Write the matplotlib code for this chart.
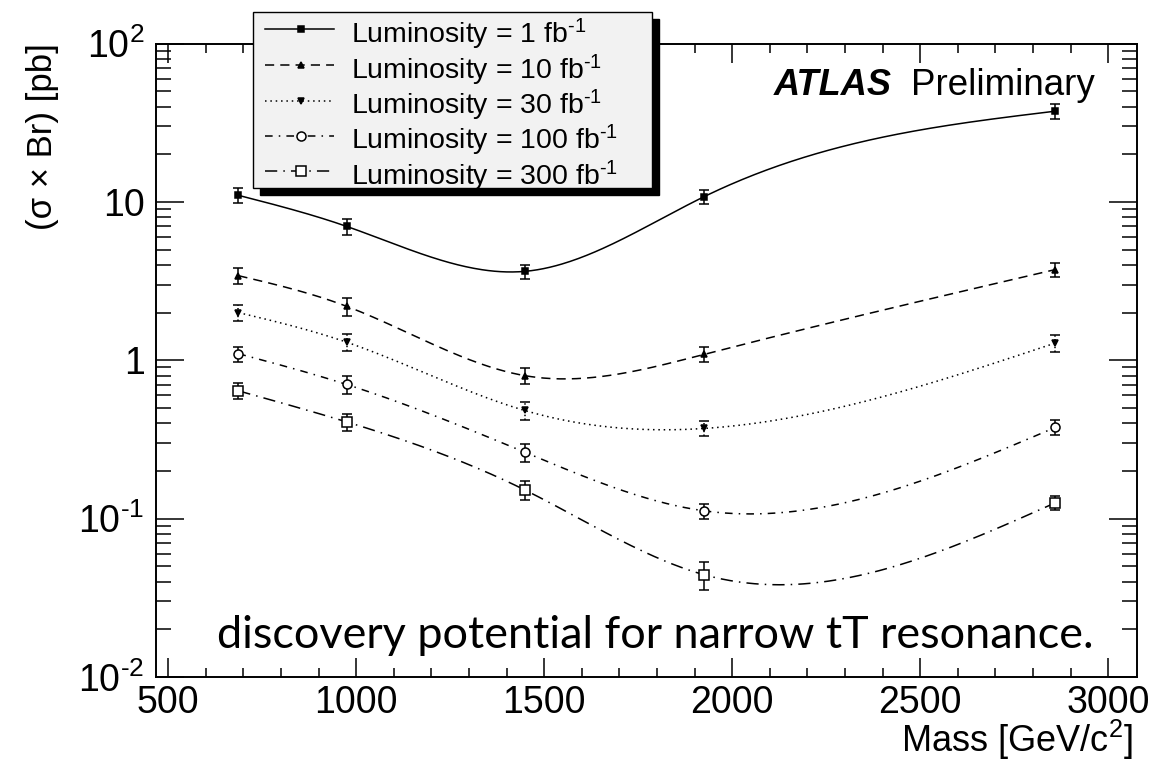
import numpy as np
import matplotlib
matplotlib.use("Agg")
import matplotlib.pyplot as plt
from matplotlib.patches import Rectangle
from matplotlib.lines import Line2D
from matplotlib.ticker import MultipleLocator, LogLocator, FuncFormatter, NullFormatter

plt.rcParams["font.family"] = ["Liberation Sans", "DejaVu Sans"]
plt.rcParams["mathtext.fontset"] = "custom"
plt.rcParams["mathtext.rm"] = "Liberation Sans"
plt.rcParams["mathtext.it"] = "Liberation Sans:italic"
plt.rcParams["mathtext.bf"] = "Liberation Sans:bold"

# ---- data -------------------------------------------------------------
mass = [687, 975, 1448, 1926, 2860]

lumi_labels = [
    r"Luminosity = 1 fb$^{\text{-}1}$",
    r"Luminosity = 10 fb$^{\text{-}1}$",
    r"Luminosity = 30 fb$^{\text{-}1}$",
    r"Luminosity = 100 fb$^{\text{-}1}$",
    r"Luminosity = 300 fb$^{\text{-}1}$",
]

xsec_1fb = [11.0, 7.0, 3.64, 10.8, 37.4]
err_1fb = [1.2, 0.85, 0.38, 1.1, 4.0]

xsec_10fb = [3.42, 2.19, 0.80, 1.09, 3.74]
err_10fb = [0.40, 0.28, 0.09, 0.12, 0.40]

xsec_30fb = [2.0, 1.30, 0.482, 0.371, 1.285]
err_30fb = [0.23, 0.16, 0.06, 0.04, 0.15]

xsec_100fb = [1.10, 0.703, 0.263, 0.112, 0.377]
err_100fb = [0.12, 0.09, 0.034, 0.012, 0.04]

xsec_300fb = [0.641, 0.408, 0.152, 0.0442, 0.126]
err_300fb = [0.075, 0.05, 0.02, 0.009, 0.013]

series = [xsec_1fb, xsec_10fb, xsec_30fb, xsec_100fb, xsec_300fb]
errors = [err_1fb, err_10fb, err_30fb, err_100fb, err_300fb]

# ---- styles -----------------------------------------------------------
line_styles = [
    "-",
    (0, (6, 4)),
    (0, (1, 2.5)),
    (0, (5, 4, 1, 4)),
    (0, (8, 4, 1, 4)),
]
markers = ["s", "^", "v", "o", "s"]
marker_sizes = [5, 5, 5, 6.5, 6.5]
marker_faces = ["black", "black", "black", "white", "white"]


def natural_spline(x, y, xs):
    """Natural cubic spline through (x, y), evaluated at xs."""
    x = np.asarray(x, float)
    y = np.asarray(y, float)
    n = len(x)
    h = np.diff(x)
    A = np.zeros((n, n))
    b = np.zeros(n)
    A[0, 0] = A[-1, -1] = 1.0
    for i in range(1, n - 1):
        A[i, i - 1] = h[i - 1]
        A[i, i] = 2 * (h[i - 1] + h[i])
        A[i, i + 1] = h[i]
        b[i] = 3 * ((y[i + 1] - y[i]) / h[i] - (y[i] - y[i - 1]) / h[i - 1])
    c = np.linalg.solve(A, b)
    idx = np.clip(np.searchsorted(x, xs) - 1, 0, n - 2)
    dx = xs - x[idx]
    bc = (y[idx + 1] - y[idx]) / h[idx] - h[idx] * (2 * c[idx] + c[idx + 1]) / 3
    dc = (c[idx + 1] - c[idx]) / (3 * h[idx])
    return y[idx] + bc * dx + c[idx] * dx ** 2 + dc * dx ** 3


W, H = 1176, 762
fig = plt.figure(figsize=(W / 100, H / 100), dpi=100)
ax = fig.add_axes([155.7 / W, 1 - 677 / H, (1136.7 - 155.7) / W, (677 - 43.5) / H])

xs = np.linspace(mass[0], mass[-1], 400)
for vals, errs, ls, mk, ms, mf in zip(series, errors, line_styles, markers,
                                      marker_sizes, marker_faces):
    curve = 10 ** natural_spline(mass, np.log10(vals), xs)
    ax.plot(xs, curve, color="black", lw=1.1, linestyle=ls)
    _, caps, bars = ax.errorbar(mass, vals, yerr=errs, fmt=mk, ms=ms, mfc=mf,
                                mec="black", mew=1.1, color="black",
                                elinewidth=1.1, capsize=3.5, capthick=1.1,
                                linestyle="none")
    if ls == line_styles[2]:
        bars[0].set_linestyle((0, (1, 1.5)))

ax.set_xscale("linear")
ax.set_yscale("log")
ax.set_xlim(467, 3076)
ax.set_ylim(0.01, 100)

ax.xaxis.set_major_locator(MultipleLocator(500))
ax.xaxis.set_minor_locator(MultipleLocator(100))
ax.yaxis.set_major_locator(LogLocator(base=10))
ax.yaxis.set_minor_locator(LogLocator(base=10, subs=np.arange(2, 10)))
ax.yaxis.set_minor_formatter(NullFormatter())
ylab = {100: "$10^{2}$", 10: "10", 1: "1",
        0.1: r"$10^{\text{-}1}$", 0.01: r"$10^{\text{-}2}$"}
ax.yaxis.set_major_formatter(FuncFormatter(
    lambda v, p: min(ylab.items(), key=lambda kv: abs(np.log10(kv[0]) - np.log10(v)))[1]))

ax.tick_params(which="both", direction="in", top=True, right=True,
               labelsize=27, width=1.1, colors="black")
ax.tick_params(axis="x", which="major", length=13.5, pad=6)
ax.tick_params(axis="x", which="minor", length=6.7)
ax.tick_params(axis="y", which="major", length=20, pad=8)
ax.tick_params(axis="y", which="minor", length=10.5)
for s in ax.spines.values():
    s.set_linewidth(1.4)

# axis titles
fig.text(43 / W, 1 - 43 / H, "(σ × Br) [pb]", rotation=90, ha="center",
         va="top", fontsize=25)
fig.text(1133 / W, 1 - 752 / H, "Mass [GeV/c$^{2}$]", ha="right",
         va="baseline", fontsize=26)

# experiment tag
fig.text(1095 / W, 1 - 95 / H, "Preliminary", ha="right", va="baseline",
         fontsize=26.5)
fig.text(892 / W, 1 - 95 / H, "ATLAS", ha="right", va="baseline",
         fontsize=26, fontweight="bold", fontstyle="italic")

# caption
fig.text(217 / W, 1 - 648 / H, "discovery potential for narrow tT resonance.",
         ha="left", va="baseline", fontsize=32.4, family=["Lato", "DejaVu Sans"])


# legend box with drop shadow
def fx(px):
    return px / W


def fy(py):
    return 1 - py / H


box_l, box_r, box_t, box_b = 253, 652, 12, 188
shadow = 7
fig.patches.append(Rectangle((fx(box_l + shadow), fy(box_b + shadow)),
                             (box_r - box_l) / W, (box_b - box_t) / H,
                             transform=fig.transFigure, facecolor="black",
                             edgecolor="black", zorder=5))
fig.patches.append(Rectangle((fx(box_l), fy(box_b)),
                             (box_r - box_l) / W, (box_b - box_t) / H,
                             transform=fig.transFigure, facecolor="#f2f2f2",
                             edgecolor="black", lw=1.0, zorder=6))
row_y = [29.3, 65, 100.5, 135.7, 171.3]
for ry, lab, ls, mk, ms, mf in zip(row_y, lumi_labels, line_styles, markers,
                                   marker_sizes, marker_faces):
    fig.add_artist(Line2D([fx(265), fx(334)], [fy(ry), fy(ry)],
                          transform=fig.transFigure, color="black", lw=1.1,
                          linestyle=ls, zorder=7))
    fig.add_artist(Line2D([fx(301)], [fy(ry)], transform=fig.transFigure,
                          marker=mk, ms=ms, mfc=mf, mec="black", mew=1.1,
                          linestyle="none", zorder=8))
    fig.text(fx(351), fy(ry + 14), lab, ha="left", va="baseline",
             fontsize=20.5, zorder=8)

fig.savefig("out.png", dpi=100)
